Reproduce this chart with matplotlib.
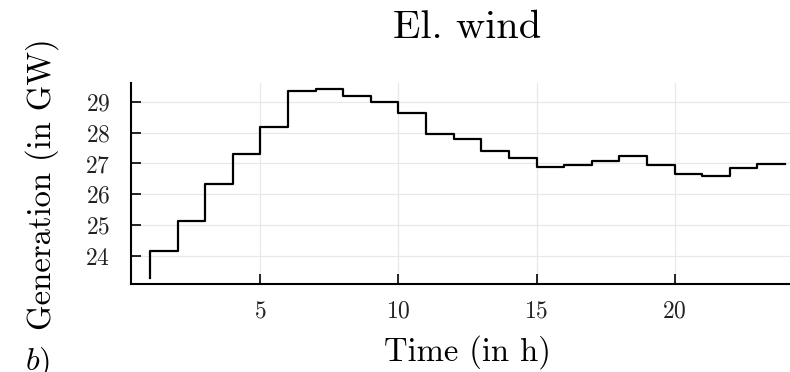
import matplotlib
matplotlib.use("Agg")
import matplotlib.pyplot as plt
import numpy as np

hours = list(range(1, 25))
generation = [23.28, 24.15, 25.15, 26.33, 27.30, 28.17, 29.35, 29.41, 29.19, 28.98,
              28.63, 27.97, 27.79, 27.40, 27.18, 26.88, 26.94, 27.08, 27.24, 26.96,
              26.67, 26.59, 26.85, 26.99]
xticks = [5, 10, 15, 20]
yticks = [24, 25, 26, 27, 28, 29]

plt.rcParams['font.family'] = ['cmr10', 'DejaVu Serif']
plt.rcParams['mathtext.fontset'] = 'cm'
plt.rcParams['axes.formatter.use_mathtext'] = True

W, H = 790, 372
fig = plt.figure(figsize=(W / 100, H / 100), dpi=100)
ax = fig.add_axes([131 / W, 1 - 284 / H, 673 / W, (284 - 83.4) / H])

ax.step(hours, generation, where='pre', color='black', lw=1.6)

ymin, ymax = min(generation), max(generation)
pad = 0.03 * (ymax - ymin)
ax.set_ylim(ymin - pad, ymax + pad)
xpad = 0.03 * (hours[-1] - hours[0])
ax.set_xlim(hours[0] - xpad, hours[-1] + xpad)

ax.set_xticks(xticks)
ax.set_yticks(yticks)
ax.tick_params(direction='in', length=7, width=1.2, labelsize=17, colors='black')
ax.tick_params(axis='x', pad=12)
ax.tick_params(axis='y', pad=15)
for lab in ax.get_xticklabels() + ax.get_yticklabels():
    lab.set_color('#222222')
ax.grid(True, color='#e8e8e8', lw=0.9)
ax.set_axisbelow(True)
for s in ['top', 'right']:
    ax.spines[s].set_visible(False)
for s in ['left', 'bottom']:
    ax.spines[s].set_linewidth(1.5)

ax.set_xlabel('Time (in h)', fontsize=23.5)
ax.xaxis.set_label_coords(0.5, (284 - 352) / (284 - 83.4))
ax.set_ylabel('Generation (in GW)', fontsize=23.5)
ax.yaxis.set_label_coords((42 - 131) / 673, 0.5)
ax.xaxis.label.set_va('center')
ax.yaxis.label.set_va('center')

fig.text(467 / W, 1 - 28 / H, 'El. wind', ha='center', va='center', fontsize=29)
fig.text(25 / W, 1 - 345 / H, r'$b$)', ha='left', va='top', fontsize=23)

fig.savefig('out.png', dpi=100)
